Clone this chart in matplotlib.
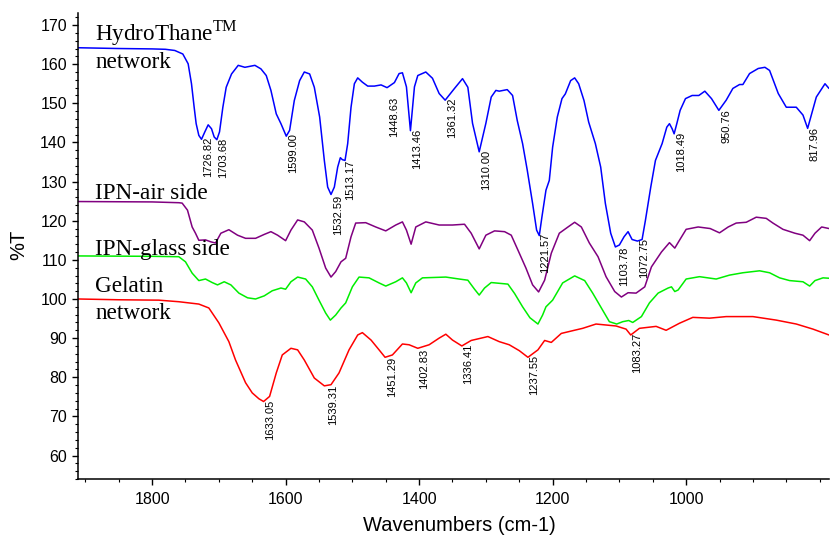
import matplotlib
matplotlib.use("Agg")
import matplotlib.pyplot as plt
from matplotlib.ticker import MultipleLocator

plt.rcParams['mathtext.fontset'] = 'custom'
plt.rcParams['mathtext.rm'] = 'Liberation Serif'

# ---------------- data ----------------
hydro_wn = [1911, 1850, 1800, 1780, 1766, 1754, 1746, 1741, 1737, 1734, 1730, 1726, 1721, 1716, 1711,
            1707, 1703, 1699, 1694, 1689, 1681, 1671, 1661, 1646, 1637, 1629, 1622, 1614, 1607, 1599,
            1594, 1587, 1579, 1572, 1564, 1557, 1549, 1542, 1537, 1532, 1527, 1522, 1518, 1515, 1511,
            1507, 1502, 1497, 1492, 1485, 1477, 1467, 1457, 1448, 1437, 1430, 1425, 1419, 1413, 1407,
            1402, 1390, 1380, 1370, 1361, 1347, 1335, 1327, 1320, 1310, 1300, 1292, 1285, 1280, 1268,
            1260, 1253, 1245, 1238, 1230, 1224, 1220, 1216, 1210, 1205, 1200, 1193, 1186, 1181, 1173,
            1167, 1161, 1153, 1146, 1136, 1128, 1121, 1113, 1106, 1100, 1093, 1087, 1081, 1073, 1066,
            1061, 1053, 1046, 1036, 1029, 1025, 1021, 1018, 1014, 1009, 1001, 991, 981, 972, 962,
            951, 940, 930, 920, 915, 905, 892, 882, 875, 862, 850, 835, 825, 818, 805, 792, 786]
hydro_t = [164.2, 164.0, 163.9, 163.8, 163.5, 162.6, 160.1, 155.0, 149.0, 144.8, 141.8, 140.8, 142.7, 144.5, 143.5,
           141.4, 140.7, 142.7, 149.0, 154.1, 157.5, 159.7, 159.2, 159.7, 158.8, 157.1, 153.3, 147.3, 144.8, 141.6,
           143.1, 150.7, 155.8, 158.0, 157.5, 154.1, 146.5, 135.4, 128.6, 126.7, 128.6, 133.7, 136.1, 135.6, 135.4,
           139.7, 149.0, 155.0, 156.5, 155.4, 154.4, 154.4, 154.7, 154.0, 155.3, 157.6, 157.8, 154.2, 143.0, 154.2,
           157.1, 158.0, 156.4, 152.5, 150.8, 153.8, 156.3, 154.1, 144.9, 137.6, 144.9, 151.6, 153.3, 153.1, 153.5,
           152.0, 145.6, 139.7, 132.9, 124.4, 117.6, 116.2, 121.0, 127.8, 130.3, 138.8, 146.5, 151.2, 152.4, 155.8,
           156.5, 155.0, 150.7, 145.2, 139.7, 133.7, 124.4, 116.8, 113.3, 113.8, 115.9, 117.2, 115.2, 114.8, 115.2,
           120.1, 128.6, 135.4, 139.7, 143.9, 144.8, 143.5, 142.2, 144.8, 148.2, 151.2, 152.0, 152.0, 153.1, 151.2,
           148.2, 150.8, 153.8, 154.8, 154.8, 157.6, 158.9, 159.2, 158.4, 152.5, 149.0, 149.0, 147.0, 143.6, 151.6, 155.0, 153.8]

air_wn = [1911, 1800, 1760, 1755, 1747, 1740, 1735, 1730, 1720, 1712, 1705, 1697, 1685, 1672, 1660,
          1645, 1632, 1622, 1612, 1600, 1592, 1582, 1572, 1560, 1550, 1540, 1532, 1525, 1517, 1510,
          1502, 1495, 1480, 1465, 1450, 1435, 1425, 1419, 1412, 1405, 1390, 1370, 1350, 1332, 1322,
          1310, 1300, 1287, 1272, 1262, 1252, 1240, 1230, 1221, 1212, 1202, 1190, 1177, 1167, 1157,
          1145, 1132, 1120, 1107, 1097, 1087, 1075, 1062, 1052, 1037, 1025, 1017, 1010, 1000, 982,
          964, 950, 937, 925, 910, 895, 880, 870, 855, 837, 825, 815, 807, 797, 786]
air_t = [124.9, 124.8, 124.6, 124.5, 122.7, 118.4, 116.8, 115.0, 115.1, 114.6, 114.3, 116.8, 117.7, 116.3, 115.5,
         115.5, 116.5, 117.2, 116.3, 114.9, 117.6, 120.2, 119.7, 117.6, 113.0, 107.9, 105.6, 107.0, 109.5, 110.4,
         115.9, 119.4, 119.5, 118.4, 117.4, 118.9, 119.7, 117.6, 114.0, 118.4, 119.7, 118.9, 118.9, 119.1, 116.8,
         112.8, 116.3, 117.4, 117.2, 116.3, 112.5, 107.9, 103.6, 101.8, 104.8, 111.7, 116.8, 118.4, 119.6, 118.4,
         114.3, 110.8, 105.7, 101.9, 100.5, 101.6, 101.5, 103.1, 108.2, 112.0, 114.4, 113.0, 115.0, 117.8, 118.4,
         118.0, 116.9, 118.4, 119.4, 119.6, 120.9, 120.6, 119.4, 117.8, 116.8, 116.3, 114.9, 116.8, 118.4, 118.0]

glass_wn = [1911, 1800, 1760, 1750, 1740, 1730, 1720, 1710, 1702, 1692, 1682, 1670, 1657, 1645, 1632,
            1620, 1607, 1600, 1592, 1582, 1570, 1560, 1550, 1540, 1533, 1525, 1517, 1510, 1500, 1490,
            1475, 1460, 1450, 1435, 1425, 1419, 1412, 1405, 1395, 1360, 1340, 1327, 1317, 1310, 1302,
            1292, 1267, 1257, 1245, 1234, 1222, 1215, 1210, 1200, 1185, 1167, 1152, 1140, 1127, 1115,
            1104, 1095, 1086, 1080, 1067, 1055, 1042, 1027, 1022, 1017, 1012, 1000, 980, 955, 935,
            915, 890, 875, 860, 845, 825, 815, 807, 795, 786]
glass_t = [111.0, 110.9, 110.8, 109.5, 106.6, 104.7, 105.1, 104.2, 103.6, 104.4, 103.6, 101.5, 100.3, 100.0, 100.8,
           102.1, 102.8, 102.5, 104.4, 105.6, 105.1, 103.1, 99.7, 96.4, 94.6, 95.9, 97.7, 99.0, 103.1, 105.6,
           105.4, 104.1, 103.3, 104.4, 105.4, 104.1, 101.6, 104.1, 105.4, 105.6, 105.1, 104.8, 102.5, 101.0, 102.8,
           104.2, 103.8, 101.4, 98.0, 95.2, 93.6, 95.9, 98.0, 99.7, 104.1, 105.9, 104.7, 101.5, 97.7, 94.2,
           93.6, 94.2, 94.5, 94.0, 95.5, 99.0, 101.5, 102.8, 103.1, 101.9, 102.3, 105.1, 105.7, 105.1, 106.1,
           106.7, 107.2, 106.7, 105.4, 104.7, 104.4, 103.3, 104.7, 105.4, 105.3]

gel_wn = [1911, 1850, 1790, 1760, 1730, 1715, 1700, 1685, 1675, 1660, 1650, 1640, 1633, 1624, 1614,
          1605, 1592, 1582, 1572, 1557, 1542, 1532, 1520, 1505, 1492, 1485, 1472, 1460, 1451, 1440,
          1425, 1415, 1402, 1385, 1370, 1360, 1350, 1336, 1322, 1297, 1280, 1265, 1250, 1237, 1222,
          1212, 1202, 1187, 1165, 1155, 1135, 1105, 1090, 1083, 1070, 1045, 1030, 1010, 990, 965,
          940, 900, 865, 835, 810, 786]
gel_t = [100.0, 99.8, 99.7, 99.3, 98.7, 97.7, 93.9, 89.1, 84.4, 78.6, 76.0, 74.5, 73.8, 75.1, 81.1,
         85.7, 87.4, 87.0, 84.4, 79.8, 77.8, 78.1, 81.1, 87.0, 90.8, 91.4, 89.5, 87.0, 85.1, 85.7,
         88.5, 88.3, 87.4, 88.3, 90.0, 91.0, 89.5, 88.0, 89.4, 90.4, 89.1, 88.3, 86.8, 85.1, 87.0,
         89.4, 88.9, 91.2, 92.1, 92.5, 93.6, 93.1, 92.3, 90.8, 92.5, 93.0, 92.0, 93.8, 95.3, 95.1,
         95.5, 95.5, 94.6, 93.6, 92.3, 90.8]

hydro_peaks = ["1726.82", "1703.68", "1599.00", "1532.59", "1513.17", "1448.63", "1413.46", "1361.32",
               "1310.00", "1221.57", "1103.78", "1072.75", "1018.49", "950.76", "817.96"]
hydro_peak_y = [141.6, 141.3, 142.3, 126.5, 135.7, 151.6, 143.6, 151.6, 138.0, 116.8, 113.3, 115.5, 142.7, 148.6, 144.0]
gel_peaks = ["1633.05", "1539.31", "1451.29", "1402.83", "1336.41", "1237.55", "1083.27"]
gel_peak_y = [74.2, 78.1, 85.3, 87.4, 88.7, 85.7, 91.3]

x_ticks = [1800, 1600, 1400, 1200, 1000]
y_ticks = [60, 70, 80, 90, 100, 110, 120, 130, 140, 150, 160, 170]

# ---------------- figure ----------------
W, H = 830, 535
fig = plt.figure(figsize=(W / 100, H / 100), dpi=100)
ax = fig.add_axes([78 / W, 1 - 479 / H, (829 - 78) / W, (479 - 13.3) / H])

lw = 1.1
kw = dict(lw=lw, solid_joinstyle='round', solid_capstyle='round')
ax.plot(hydro_wn, hydro_t, color='#0000ff', **kw)
ax.plot(air_wn, air_t, color='#800080', **kw)
ax.plot(glass_wn, glass_t, color='#00ee00', **kw)
ax.plot(gel_wn, gel_t, color='#ff0000', **kw)

ax.set_xlim(1911, 786)
ax.set_ylim(54, 173)

for s in ['top', 'right']:
    ax.spines[s].set_visible(False)
for s in ['left', 'bottom']:
    ax.spines[s].set_linewidth(1.1)

ax.set_xticks(x_ticks)
ax.set_yticks(y_ticks)
ax.xaxis.set_minor_locator(MultipleLocator(50))
ax.yaxis.set_minor_locator(MultipleLocator(2))
ax.tick_params(which='major', direction='out', length=4, width=1.0)
ax.tick_params(which='minor', direction='out', length=2, width=0.8)
ax.tick_params(axis='x', which='major', pad=5)
ax.tick_params(axis='y', which='major', pad=4)
for lab in ax.get_xticklabels() + ax.get_yticklabels():
    lab.set_fontfamily('Liberation Sans')
    lab.set_fontsize(11.5)

lab_font = dict(family='Liberation Sans', size=8)
for txt, y in zip(hydro_peaks, hydro_peak_y):
    ax.annotate(txt, xy=(float(txt), y), xytext=(2, 0), textcoords='offset pixels',
                rotation=90, ha='left', va='top', **lab_font)
for txt, y in zip(gel_peaks, gel_peak_y):
    ax.annotate(txt, xy=(float(txt), y), xytext=(2, 0), textcoords='offset pixels',
                rotation=90, ha='left', va='top', **lab_font)

serif = dict(family='Liberation Serif', size=16.7, va='baseline', ha='left')
lx = 1885
ax.text(lx, 166.1, r'HydroThane$^{\mathrm{TM}}$', **serif)
ax.text(lx, 158.9, 'network', **serif)
ax.text(lx, 125.5, 'IPN-air side', **serif)
ax.text(lx, 111.2, 'IPN-glass side', **serif)
ax.text(lx, 101.8, 'Gelatin', **serif)
ax.text(lx, 94.9, 'network', **serif)

fig.text(459 / W, 4 / H, 'Wavenumbers (cm-1)', ha='center', va='baseline',
         family='Liberation Sans', size=14.5)
fig.text(19 / W, 1 - 245 / H, '%T', rotation=90, ha='center', va='center',
         family='Liberation Sans', size=14.5)

fig.savefig('out.png', dpi=100)
